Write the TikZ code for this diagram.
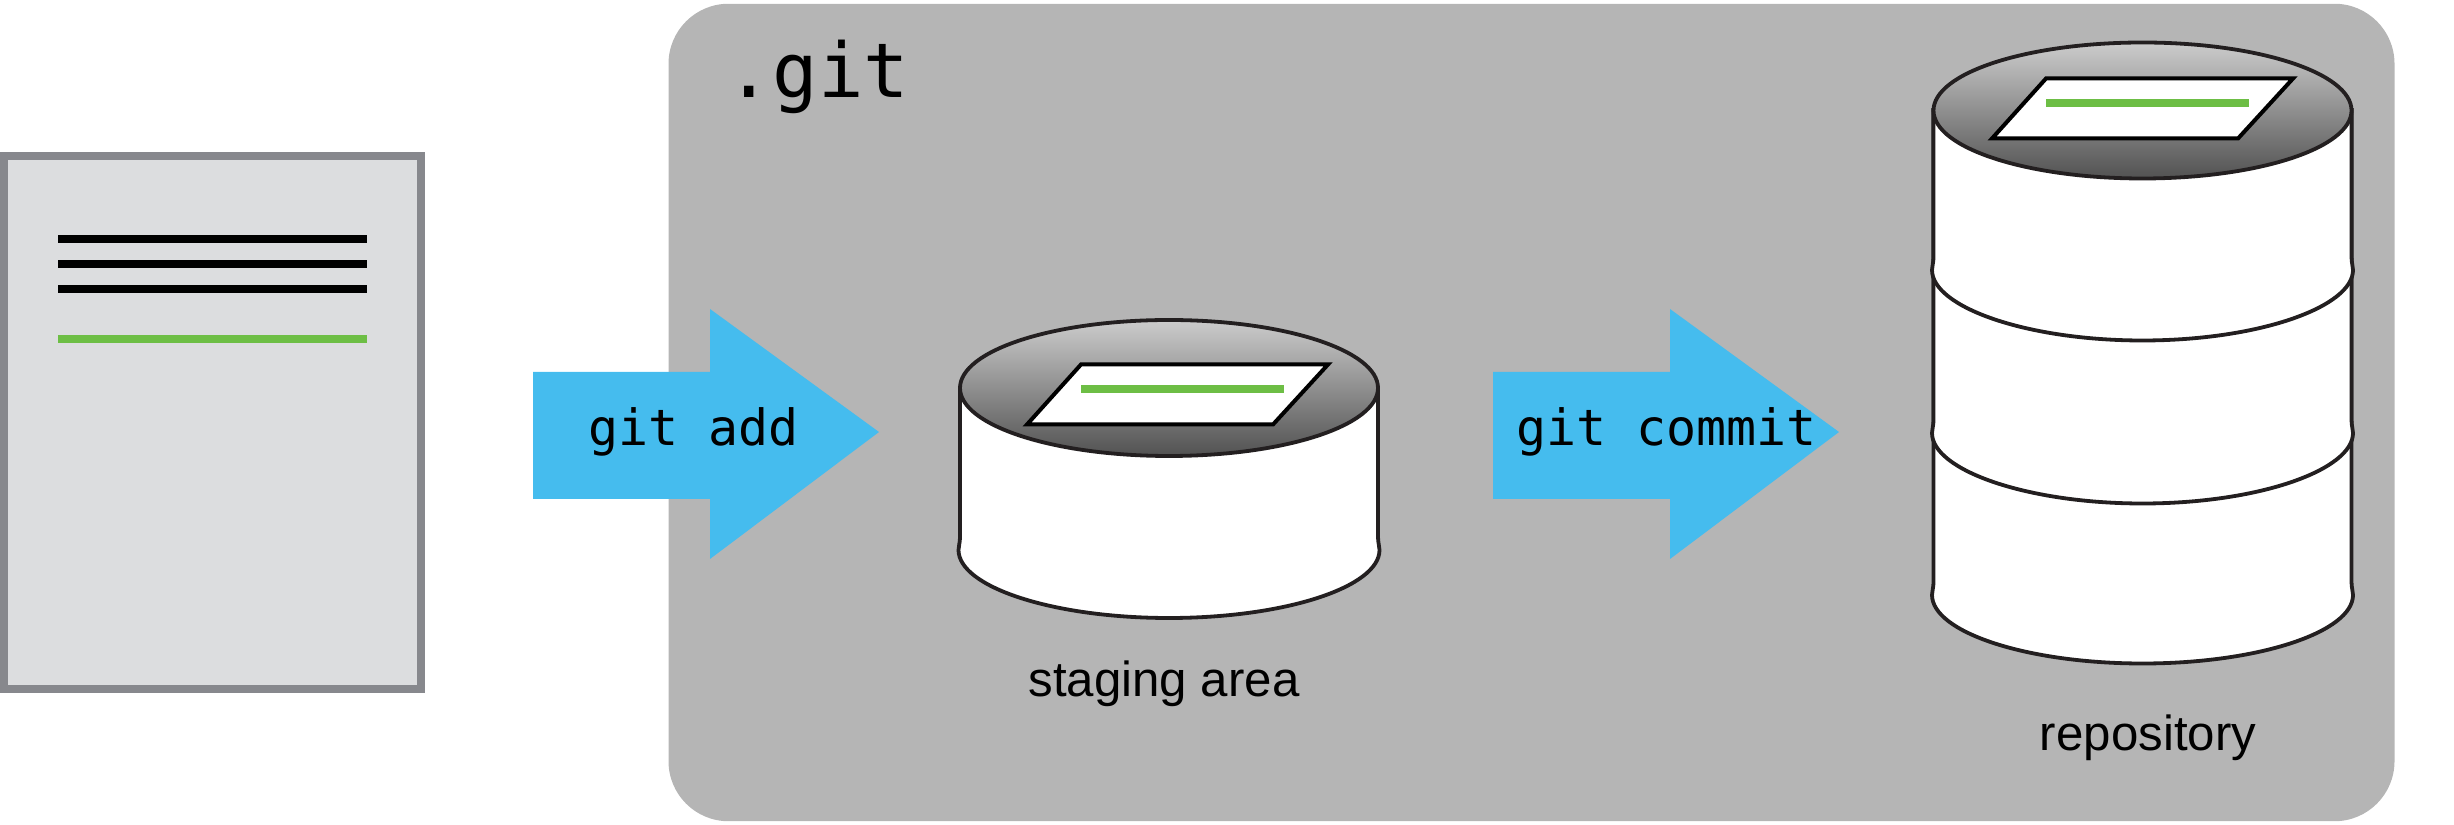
\documentclass[tikz,border=0pt]{standalone}
\usepackage{fontspec}
\setmainfont{Liberation Sans}
\setmonofont{DejaVu Sans Mono}
\definecolor{gitgray}{RGB}{181,181,181}
\definecolor{gitblue}{RGB}{69,188,238}
\definecolor{gitgreen}{RGB}{109,190,69}
\definecolor{pagefill}{RGB}{220,221,223}
\definecolor{pageedge}{RGB}{135,136,141}
\definecolor{diskedge}{RGB}{35,31,32}
\usetikzlibrary{positioning}

\begin{document}
\begin{tikzpicture}[
  x=0.01cm, y=-0.01cm,
  gitpanel/.style={
    rectangle, rounded corners=0.6cm,
    minimum width=17.25cm, minimum height=8.17cm,
    inner sep=0pt, fill=gitgray
  },
  filepage/.style={
    rectangle,
    minimum width=4.17cm, minimum height=5.33cm,
    inner sep=0pt, draw=pageedge, line width=0.08cm,
    fill=pagefill
  },
  textline/.style={line width=0.08cm},
  diskbody/.style={draw=diskedge, line width=0.038cm, fill=white},
  disktop/.style={
    draw=diskedge, line width=0.038cm,
    top color=black!20, middle color=black!36, bottom color=black!68
  },
  sheet/.style={draw=black, line width=0.04cm, fill=white, miter limit=10},
  cmdarrow/.style={fill=gitblue},
  cmdtext/.style={font=\ttfamily\fontsize{14.2pt}{17pt}\selectfont, anchor=base, inner sep=0pt},
  disklabel/.style={font=\fontsize{14pt}{17pt}\selectfont, anchor=base, inner sep=0pt}
]
\useasboundingbox (0,0) rectangle (2454,825);

\node[gitpanel] (gitdir) at (1531.5,412.5) {};
\node[filepage] (workfile) at (212.5,422.5) {};
\node[font=\ttfamily\fontsize{21.5pt}{25pt}\selectfont, anchor=base, inner sep=0pt] (gitname) at (818,98) {.git};

% lines of the file
\foreach \ly in {239.5,264.5,289.5} {
  \draw[textline, black] (58,\ly) -- (367,\ly);
}
\draw[textline, gitgreen] (58,339.5) -- (367,339.5);

% arrows
\foreach \ax in {533,1493} {
  \fill[cmdarrow] (\ax,372) -- (\ax+177,372) -- (\ax+177,309) -- (\ax+346,432)
    -- (\ax+177,559) -- (\ax+177,499) -- (\ax,499) -- cycle;
}
\node[cmdtext] (addtext) at (693.5,446) {git add};
\node[cmdtext] (committext) at (1666.5,446) {git commit};

% disks, lowest first
\foreach \cx/\ty/\fy/\by in {1169/387.5/550/618, 2142.5/110/595/663.5, 2142.5/110/433/503.5, 2142.5/110/270/340.5} {
  \draw[diskbody] (\cx-209,\ty) -- (\cx-209,\fy-13)
    .. controls (\cx-209,\fy-7) and (\cx-210.5,\fy-4) .. (\cx-210.5,\fy)
    .. controls (\cx-210.5,\fy+37) and (\cx-116,\by) .. (\cx,\by)
    .. controls (\cx+116,\by) and (\cx+210.5,\fy+37) .. (\cx+210.5,\fy)
    .. controls (\cx+210.5,\fy-4) and (\cx+209,\fy-7) .. (\cx+209,\fy-13)
    -- (\cx+209,\ty) -- cycle;
}
\foreach \cx/\cy/\sx/\sy in {1169/388/1081/364.5, 2142.5/110.5/2046/78.5} {
  \draw[disktop] (\cx,\cy) ellipse [x radius=209, y radius=68];
  \draw[sheet] (\sx,\sy) -- (\sx+247,\sy) -- (\sx+192,\sy+60) -- (\sx-54,\sy+60) -- cycle;
  \draw[textline, gitgreen] (\sx,\sy+25) -- (\sx+203,\sy+25);
}

\node[disklabel] (stagelabel) at (1164,697) {staging area};
\node[disklabel] (repolabel) at (2148,751) {repository};
\end{tikzpicture}
\end{document}
